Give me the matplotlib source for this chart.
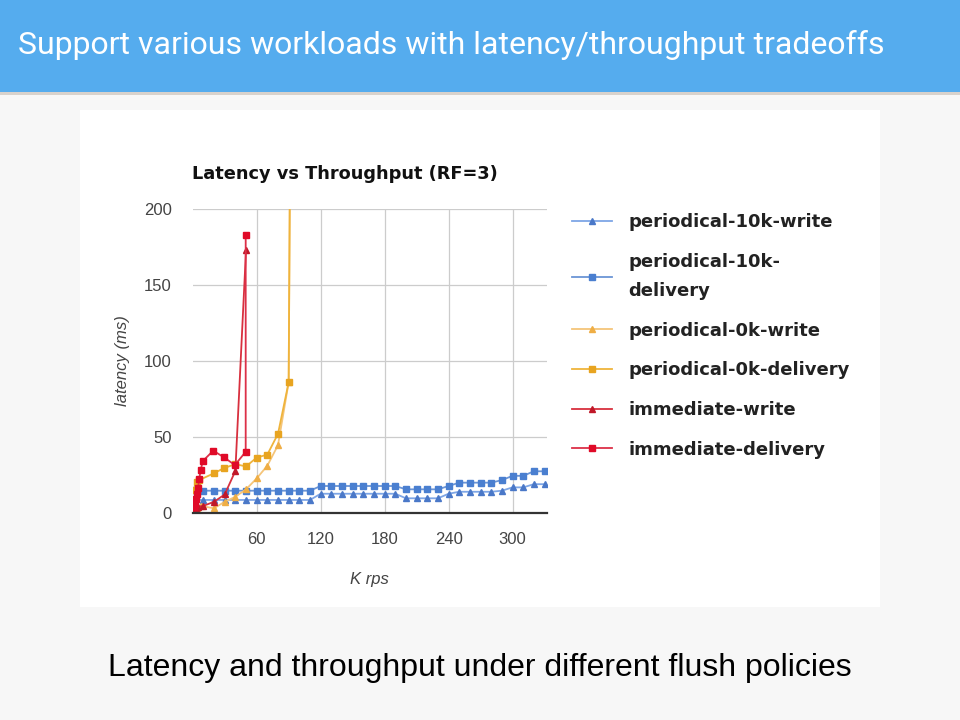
import matplotlib.pyplot as plt
from matplotlib.patches import Rectangle

# K rps / latency (ms)
x_10k = [2, 10, 20, 30, 40, 50, 60, 70, 80, 90, 100, 110, 120, 130, 140, 150, 160,
         170, 180, 190, 200, 210, 220, 230, 240, 250, 260, 270, 280, 290, 300, 310, 320, 330]
lat_10k_write = [8.4, 8.4, 8.4, 8.4, 8.4, 8.4, 8.4, 8.4, 8.4, 8.4, 8.4, 8.4, 12.5, 12.5, 12.5,
                 12.5, 12.5, 12.5, 12.5, 12.5, 9.5, 9.5, 9.5, 9.5, 12.5, 13.8, 13.8, 13.8, 13.8,
                 14.5, 16.7, 16.7, 18.8, 18.8]
lat_10k_delivery = [15, 14.5, 14.5, 14.5, 14.5, 14.5, 14.5, 14.5, 14.5, 14.5, 14.5, 14.5, 17.6, 17.6,
                    17.6, 17.6, 17.6, 17.6, 17.6, 17.6, 15.4, 15.4, 15.4, 15.4, 17.6, 19.8, 19.8,
                    19.8, 19.8, 21.5, 24.3, 24.3, 27.3, 27.3]

x_0k_write = [1, 4, 8, 20, 30, 40, 50, 60, 70, 80, 90, 91.5]
lat_0k_write = [4, 3, 4.4, 2.9, 7.2, 10.5, 15.4, 22.6, 31, 44.5, 86, 260]
x_0k_delivery = [1, 4, 6, 20, 29, 40, 50, 60, 70, 80, 90, 91.5]
lat_0k_delivery = [15, 20, 21.5, 26, 29.3, 32, 30.5, 36.3, 38.3, 52, 86, 260]

x_imm_write = [1, 2, 3, 5, 10, 20, 30, 40, 50]
lat_imm_write = [3, 2, 3, 4, 4.5, 7.2, 12, 27.5, 173]
x_imm_delivery = [1, 2, 3, 4, 5, 6, 7.5, 9.4, 19.3, 29.3, 39.6, 49.7, 49.7]
lat_imm_delivery = [4, 6, 9, 12, 16, 22, 28, 34, 40.9, 36.5, 31.4, 40.2, 183]

labels = ["periodical-10k-write", "periodical-10k-\ndelivery", "periodical-0k-write",
          "periodical-0k-delivery", "immediate-write", "immediate-delivery"]

series = [
    (x_10k, lat_10k_write, "#7ea6e6", "#4a78c8", "^"),
    (x_10k, lat_10k_delivery, "#6b95d6", "#4a7fd0", "s"),
    (x_0k_write, lat_0k_write, "#f5c57a", "#efae45", "^"),
    (x_0k_delivery, lat_0k_delivery, "#efb43c", "#e8a420", "s"),
    (x_imm_write, lat_imm_write, "#d8303e", "#c01828", "^"),
    (x_imm_delivery, lat_imm_delivery, "#dc3048", "#e00a28", "s"),
]

fig = plt.figure(figsize=(9.6, 7.2), dpi=100)
fig.patch.set_facecolor("#f7f7f7")

# header bar and white chart card (behind the axes)
fig.add_artist(Rectangle((0, 1 - 92 / 720), 1, 92 / 720, transform=fig.transFigure,
                         facecolor="#55acee", edgecolor="none", zorder=-5))
fig.add_artist(Rectangle((0, 1 - 95 / 720), 1, 3 / 720, transform=fig.transFigure,
                         facecolor="#d8d2cc", edgecolor="none", zorder=-5))
fig.add_artist(Rectangle((80 / 960, 1 - 607 / 720), 800 / 960, 497 / 720,
                         transform=fig.transFigure, facecolor="white", edgecolor="none",
                         zorder=-5))
fig.text(18 / 960, 1 - 45 / 720, "Support various workloads with latency/throughput tradeoffs",
         color="white", fontsize=23, family="Roboto", va="center", ha="left")
fig.text(0.5, 1 - 668 / 720, "Latency and throughput under different flush policies",
         color="black", fontsize=23, family="Liberation Sans", va="center", ha="center")

ax = fig.add_axes([192.7 / 960, 207.3 / 720, 354 / 960, 303.4 / 720])
ax.set_facecolor("white")
for (xs, ys, lc, mc, mk), label in zip(series, labels):
    ax.plot(xs, ys, color=lc, lw=1.3, marker=mk, markersize=3.8,
            markerfacecolor=mc, markeredgecolor=mc, label=label)

ax.set_xlim(0, 332)
ax.set_ylim(0, 200)
ax.set_xticks([60, 120, 180, 240, 300])
ax.set_yticks([0, 50, 100, 150, 200])
ax.grid(True, color="#cccccc", lw=0.9)
ax.set_axisbelow(True)
for s in ["top", "right", "left"]:
    ax.spines[s].set_visible(False)
ax.spines["bottom"].set_color("#333333")
ax.spines["bottom"].set_linewidth(1.6)
ax.tick_params(length=0, labelsize=12, labelcolor="#444444")
ax.tick_params(axis="x", pad=14)
ax.tick_params(axis="y", pad=15)
for t in ax.get_xticklabels() + ax.get_yticklabels():
    t.set_family("Liberation Sans")
ax.set_xlabel("K rps", fontsize=12, style="italic", color="#444444", labelpad=18,
              family="Liberation Sans")
ax.set_ylabel("latency (ms)", fontsize=12, style="italic", color="#444444", labelpad=10,
              family="Liberation Sans")
fig.text(192 / 960, 1 - 174 / 720, "Latency vs Throughput (RF=3)", fontsize=12.8,
         fontweight="bold", family="DejaVu Sans", va="center", ha="left", color="#111111")

leg = ax.legend(loc="upper left", bbox_to_anchor=(556 / 960, 1 - 197 / 720),
                bbox_transform=fig.transFigure, frameon=False,
                handlelength=2.2, handletextpad=0.9, labelspacing=1.2,
                prop={"family": "DejaVu Sans", "size": 13, "weight": "bold"})
for t in leg.get_texts():
    t.set_color("#222222")
    t.set_linespacing(1.8)

fig.savefig("out.png", dpi=100, facecolor=fig.get_facecolor())
